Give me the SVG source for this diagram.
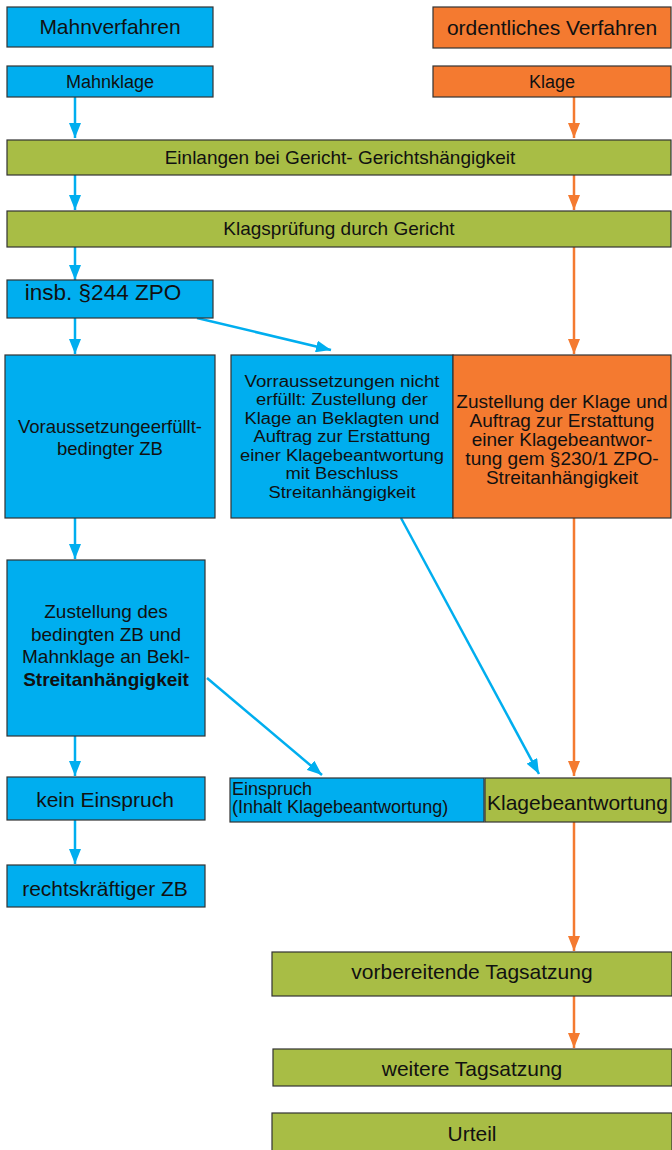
<svg xmlns="http://www.w3.org/2000/svg" width="672" height="1150" viewBox="0 0 672 1150">
<style>
.b{fill:#00AEEF;stroke:#333;stroke-width:1.2}
.o{fill:#F47A30;stroke:#333;stroke-width:1.2}
.g{fill:#A8BD45;stroke:#333;stroke-width:1.2}
text{font-family:"Liberation Sans",Arial,sans-serif;fill:#111;font-size:18.5px}
.c{text-anchor:middle}
.h{font-size:21px}
.l{font-size:21px}
.x{font-size:22.5px}
.m{font-size:19px}
.s{font-size:18px}
.t{font-size:16px}
.bold{font-weight:bold}
.cb{stroke:#00AEEF;stroke-width:2.5;fill:none}
.co{stroke:#F47A30;stroke-width:2.5;fill:none}
</style>
<defs>
<marker id="abd" viewBox="0 0 15 12" refX="15" refY="6" markerWidth="15" markerHeight="12" markerUnits="userSpaceOnUse" orient="auto"><path d="M0,0 L15,6 L0,12 Z" fill="#00AEEF"/></marker>
<marker id="aod" viewBox="0 0 15 12" refX="15" refY="6" markerWidth="15" markerHeight="12" markerUnits="userSpaceOnUse" orient="auto"><path d="M0,0 L15,6 L0,12 Z" fill="#F47A30"/></marker>
</defs>
<g id="connectors">
<line class="cb" x1="75" y1="97" x2="75" y2="138" marker-end="url(#abd)"/>
<line class="co" x1="574" y1="97" x2="574" y2="138" marker-end="url(#aod)"/>
<line class="cb" x1="75" y1="175" x2="75" y2="210" marker-end="url(#abd)"/>
<line class="co" x1="574" y1="175" x2="574" y2="210" marker-end="url(#aod)"/>
<line class="cb" x1="75" y1="247" x2="75" y2="280" marker-end="url(#abd)"/>
<line class="co" x1="574" y1="247" x2="574" y2="354" marker-end="url(#aod)"/>
<line class="cb" x1="75" y1="318" x2="75" y2="354" marker-end="url(#abd)"/>
<line class="cb" x1="197" y1="318" x2="331" y2="350" marker-end="url(#abd)"/>
<line class="cb" x1="75" y1="518" x2="75" y2="559" marker-end="url(#abd)"/>
<line class="cb" x1="75" y1="736" x2="75" y2="776" marker-end="url(#abd)"/>
<line class="cb" x1="75" y1="820" x2="75" y2="864" marker-end="url(#abd)"/>
<line class="cb" x1="207" y1="678" x2="322" y2="775" marker-end="url(#abd)"/>
<line class="cb" x1="401" y1="518" x2="539" y2="774" marker-end="url(#abd)"/>
<line class="co" x1="574" y1="518" x2="574" y2="776" marker-end="url(#aod)"/>
<line class="co" x1="574" y1="822" x2="574" y2="951" marker-end="url(#aod)"/>
<line class="co" x1="574" y1="996" x2="574" y2="1048" marker-end="url(#aod)"/>
</g>
<g id="mahnverfahren"><rect class="b" x="7" y="7" width="206" height="40"/><text class="c h" x="110" y="34">Mahnverfahren</text></g>
<g id="ordentliches"><rect class="o" x="433" y="7" width="238" height="41"/><text class="c h" x="552" y="35">ordentliches Verfahren</text></g>
<g id="mahnklage"><rect class="b" x="7" y="66" width="206" height="31"/><text class="c s" x="110" y="88">Mahnklage</text></g>
<g id="klage"><rect class="o" x="433" y="66" width="238" height="31"/><text class="c s" x="552" y="88">Klage</text></g>
<g id="einlangen"><rect class="g" x="7" y="140" width="664" height="35"/><text class="c m" x="340" y="164">Einlangen bei Gericht- Gerichtshängigkeit</text></g>
<g id="klagspruefung"><rect class="g" x="7" y="211" width="664" height="36"/><text class="c m" x="339" y="235">Klagsprüfung durch Gericht</text></g>
<g id="insb"><rect class="b" x="7" y="280" width="206" height="38"/><text class="c x" x="103" y="300">insb. §244 ZPO</text></g>
<g id="voraussetzung"><rect class="b" x="5" y="355" width="210" height="163"/><text class="c" x="110" y="433">Voraussetzungeerfüllt-</text><text class="c" x="110" y="455">bedingter ZB</text></g>
<g id="nichterfuellt"><rect class="b" x="231" y="355" width="222" height="163"/>
<text class="c t" x="342" y="387" textLength="195" lengthAdjust="spacingAndGlyphs">Vorraussetzungen nicht</text>
<text class="c t" x="342" y="405" textLength="172" lengthAdjust="spacingAndGlyphs">erfüllt: Zustellung der</text>
<text class="c t" x="342" y="424" textLength="195" lengthAdjust="spacingAndGlyphs">Klage an Beklagten und</text>
<text class="c t" x="342" y="442" textLength="177" lengthAdjust="spacingAndGlyphs">Auftrag zur Erstattung</text>
<text class="c t" x="342" y="461" textLength="204" lengthAdjust="spacingAndGlyphs">einer Klagebeantwortung</text>
<text class="c t" x="342" y="479" textLength="113" lengthAdjust="spacingAndGlyphs">mit Beschluss</text>
<text class="c t" x="342" y="498" textLength="147" lengthAdjust="spacingAndGlyphs">Streitanhängigkeit</text></g>
<g id="zustellungklage"><rect class="o" x="453" y="355" width="218" height="163"/>
<text class="c m" x="562" y="408">Zustellung der Klage und</text>
<text class="c m" x="562" y="427">Auftrag zur Erstattung</text>
<text class="c m" x="562" y="446">einer Klagebeantwor-</text>
<text class="c m" x="562" y="465">tung gem §230/1 ZPO-</text>
<text class="c m" x="562" y="484">Streitanhängigkeit</text></g>
<g id="zustellungzb"><rect class="b" x="7" y="560" width="198" height="176"/>
<text class="c m" x="106" y="618">Zustellung des</text>
<text class="c m" x="106" y="641">bedingten ZB und</text>
<text class="c m" x="106" y="663">Mahnklage an Bekl-</text>
<text class="c m bold" x="106" y="686">Streitanhängigkeit</text></g>
<g id="keineinspruch"><rect class="b" x="7" y="777" width="198" height="43"/><text class="c l" x="105" y="807">kein Einspruch</text></g>
<g id="rechtskraeftig"><rect class="b" x="7" y="865" width="198" height="42"/><text class="c l" x="105" y="896">rechtskräftiger ZB</text></g>
<g id="einspruch"><rect class="b" x="230" y="778" width="254" height="44"/><text class="s" x="232" y="795">Einspruch</text><text class="s" x="232" y="813">(Inhalt Klagebeantwortung)</text></g>
<g id="klagebeantwortung"><rect class="g" x="485" y="778" width="186" height="44"/><text class="l" x="487" y="810">Klagebeantwortung</text></g>
<g id="vorbereitende"><rect class="g" x="272" y="952" width="400" height="44"/><text class="c l" x="472" y="979">vorbereitende Tagsatzung</text></g>
<g id="weitere"><rect class="g" x="273" y="1049" width="399" height="37"/><text class="c l" x="472" y="1076">weitere Tagsatzung</text></g>
<g id="urteil"><rect class="g" x="272" y="1113" width="400" height="40"/><text class="c l" x="472" y="1141">Urteil</text></g>
</svg>
